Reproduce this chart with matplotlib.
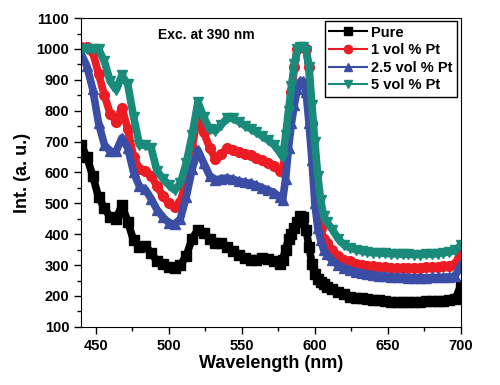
import matplotlib
matplotlib.use("Agg")
import matplotlib.pyplot as plt
from matplotlib.ticker import MultipleLocator
from matplotlib.lines import Line2D

plt.rcParams['font.family'] = ['Liberation Sans', 'DejaVu Sans']
plt.rcParams['font.weight'] = 'bold'

wavelength = [440, 444, 448, 452, 456, 460, 464, 468, 472, 476, 480, 484, 488, 492, 496, 500,
              504, 508, 512, 516, 520, 524, 528, 532, 536, 540, 544, 548, 552, 556, 560, 564,
              568, 572, 576, 578, 580, 582, 584, 586, 588, 590, 592, 594, 596, 598, 600, 602,
              604, 606, 608, 612, 616, 620, 624, 628, 632, 636, 640, 644, 648, 652, 656, 660,
              664, 668, 672, 676, 680, 684, 688, 692, 696, 700]

pure = [690, 650, 590, 520, 485, 455, 448, 495, 440, 380, 360, 362, 340, 312, 302, 295,
        292, 300, 330, 385, 415, 405, 385, 372, 370, 358, 345, 332, 322, 318, 318, 322,
        320, 312, 305, 318, 350, 385, 400, 420, 440, 458, 455, 415, 360, 305, 270, 255,
        245, 238, 230, 222, 212, 205, 198, 195, 192, 190, 188, 186, 184, 182, 180, 180,
        181, 182, 182, 183, 184, 184, 185, 186, 190, 235]

pt_1 = [1005, 1005, 990, 920, 850, 790, 765, 810, 740, 650, 612, 605, 590, 555, 525, 500,
        488, 505, 575, 680, 785, 730, 680, 645, 660, 678, 672, 665, 660, 655, 648, 640,
        632, 622, 605, 600, 680, 780, 860, 940, 1000, 1005, 1005, 1000, 940, 760, 600, 470,
        420, 385, 370, 350, 330, 318, 312, 305, 300, 298, 296, 294, 293, 292, 291, 291,
        291, 292, 292, 293, 294, 295, 296, 298, 302, 345]

pt_25 = [985, 945, 870, 760, 690, 668, 668, 712, 680, 600, 555, 545, 515, 480, 455, 438,
         432, 450, 520, 610, 672, 630, 590, 576, 580, 582, 578, 572, 568, 565, 558, 550,
         543, 535, 520, 512, 580, 680, 760, 820, 870, 895, 895, 860, 760, 640, 500, 420,
         380, 350, 335, 315, 300, 290, 284, 278, 274, 270, 268, 266, 264, 262, 261, 260,
         259, 259, 259, 259, 260, 260, 261, 262, 265, 300]

pt_5 = [1000, 1000, 1000, 1000, 960, 895, 868, 915, 885, 780, 690, 688, 680, 605, 580, 560,
        543, 565, 630, 720, 828, 780, 740, 735, 755, 775, 775, 765, 752, 742, 730, 718,
        705, 690, 665, 650, 720, 800, 880, 950, 1000, 1005, 1005, 995, 940, 820, 700, 590,
        510, 460, 440, 415, 385, 365, 356, 350, 346, 342, 340, 339, 338, 337, 336, 335,
        335, 334, 334, 335, 336, 337, 340, 342, 348, 365]

labels = ['Pure', '1 vol % Pt', '2.5 vol % Pt', '5 vol % Pt']
colors = ['black', '#ec1c24', '#3a4ea6', '#1a8a7a']
markers = ['s', 'o', '^', 'v']

fig = plt.figure(figsize=(5, 3.85), dpi=100)
ax = fig.add_axes([0.162, 0.151, 0.76, 0.802])

handles = []
for series, lab, col, mk in zip([pure, pt_1, pt_25, pt_5], labels, colors, markers):
    # thick band underneath, then the markers on top
    ax.plot(wavelength, series, color=col, lw=5.5, solid_joinstyle='round',
            solid_capstyle='round')
    ax.plot(wavelength, series, color=col, lw=0, marker=mk, markersize=7)
    handles.append(Line2D([], [], color=col, lw=1.5, marker=mk, markersize=6, label=lab))

ax.set_xlim(440, 700)
ax.set_ylim(100, 1100)
ax.xaxis.set_major_locator(MultipleLocator(50))
ax.xaxis.set_minor_locator(MultipleLocator(25))
ax.yaxis.set_major_locator(MultipleLocator(100))
ax.yaxis.set_minor_locator(MultipleLocator(50))
ax.tick_params(which='both', direction='out', top=False, right=False, labelsize=10.5, width=1)
ax.tick_params(which='major', length=5)
ax.tick_params(which='minor', length=3)
for lbl in ax.get_xticklabels() + ax.get_yticklabels():
    lbl.set_fontweight('bold')

ax.set_xlabel('Wavelength (nm)', fontsize=13, fontweight='bold', labelpad=2)
ax.set_ylabel('Int. (a. u.)', fontsize=13, fontweight='bold', labelpad=4)

ax.text(0.203, 0.945, 'Exc. at 390 nm', transform=ax.transAxes, fontsize=10,
        fontweight='bold', va='center', ha='left')

leg = ax.legend(handles=handles, loc='upper right', bbox_to_anchor=(0.99, 0.99),
                borderaxespad=0, fancybox=False, edgecolor='black', framealpha=1,
                handlelength=2.6, handletextpad=0.3, labelspacing=0.25,
                borderpad=0.3, prop={'size': 10.5, 'weight': 'bold'})
leg.get_frame().set_linewidth(1.0)

fig.savefig('out.png', dpi=100)
